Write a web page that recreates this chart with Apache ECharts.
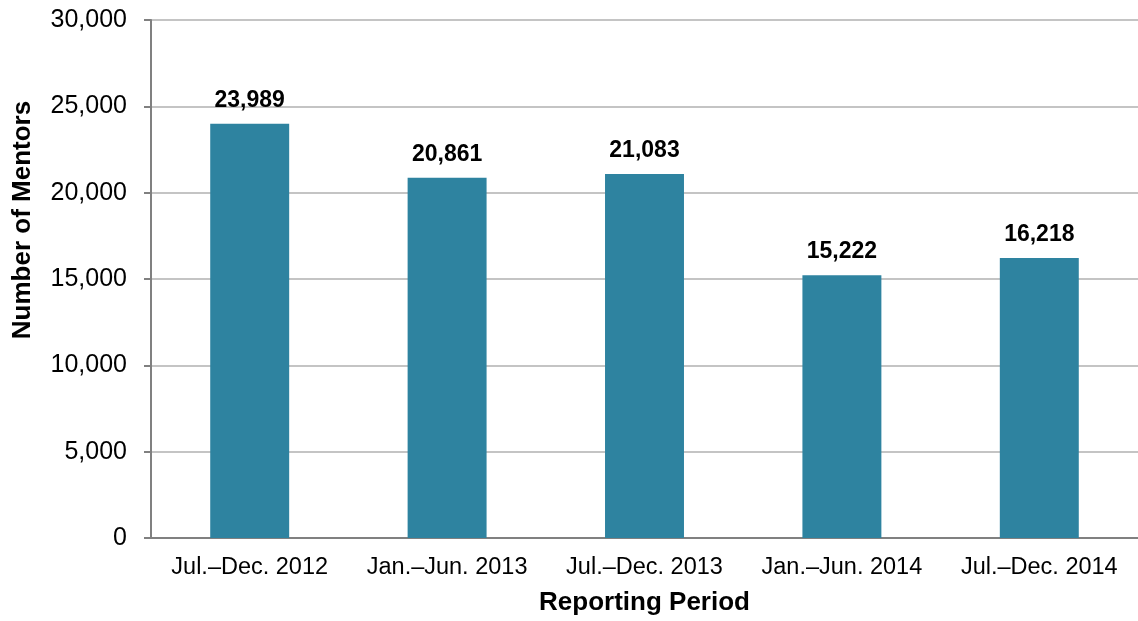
<!DOCTYPE html>
<html>
<head>
<meta charset="utf-8">
<script src="https://cdn.jsdelivr.net/npm/echarts@6/dist/echarts.min.js"></script>
<style>
  html, body { margin: 0; padding: 0; background: #fff; }
  #chart { width: 1138px; height: 621px; }
</style>
</head>
<body>
<div id="chart"></div>
<script>
// Mentors active in each reporting period
const periods = ['Jul.–Dec. 2012', 'Jan.–Jun. 2013', 'Jul.–Dec. 2013', 'Jan.–Jun. 2014', 'Jul.–Dec. 2014'];
const mentors = [23989, 20861, 21083, 15222, 16218];

const font = '"Liberation Sans", Arial, sans-serif';
const chart = echarts.init(document.getElementById('chart'), null, { renderer: 'canvas' });

chart.setOption({
  animation: false,
  textStyle: { fontFamily: font },
  grid: { left: 151, right: 0, top: 20, bottom: 83, containLabel: false },
  xAxis: {
    type: 'category',
    data: periods,
    name: 'Reporting Period',
    nameLocation: 'middle',
    nameGap: 52,
    nameTextStyle: { fontFamily: font, fontSize: 26, fontWeight: 'bold', color: '#000' },
    axisLine: { lineStyle: { color: '#808080', width: 2 } },
    axisTick: { show: false },
    axisLabel: { interval: 0, hideOverlap: false, fontFamily: font, fontSize: 23.5, color: '#000', margin: 18 }
  },
  yAxis: {
    type: 'value',
    min: 0,
    max: 30000,
    interval: 5000,
    axisLine: { show: true, lineStyle: { color: '#808080', width: 2 } },
    axisTick: { show: true, length: 7, lineStyle: { color: '#808080', width: 2 } },
    splitLine: { lineStyle: { color: '#c4c4c4', width: 2 } },
    axisLabel: {
      fontFamily: font, fontSize: 25, color: '#000', margin: 24,
      formatter: v => v.toLocaleString('en-US')
    }
  },
  graphic: [{
    type: 'text',
    x: 23,
    y: 220,
    rotation: Math.PI / 2,
    style: {
      text: 'Number of Mentors',
      font: 'bold 26px ' + font,
      fill: '#000',
      align: 'center',
      verticalAlign: 'middle'
    }
  }],
  series: [{
    type: 'bar',
    data: mentors,
    barWidth: '40%',
    itemStyle: { color: '#2e83a0' },
    label: {
      show: true,
      position: 'top',
      distance: 12,
      fontFamily: font,
      fontSize: 23,
      fontWeight: 'bold',
      color: '#000',
      formatter: p => p.value.toLocaleString('en-US')
    }
  }]
});
</script>
</body>
</html>
